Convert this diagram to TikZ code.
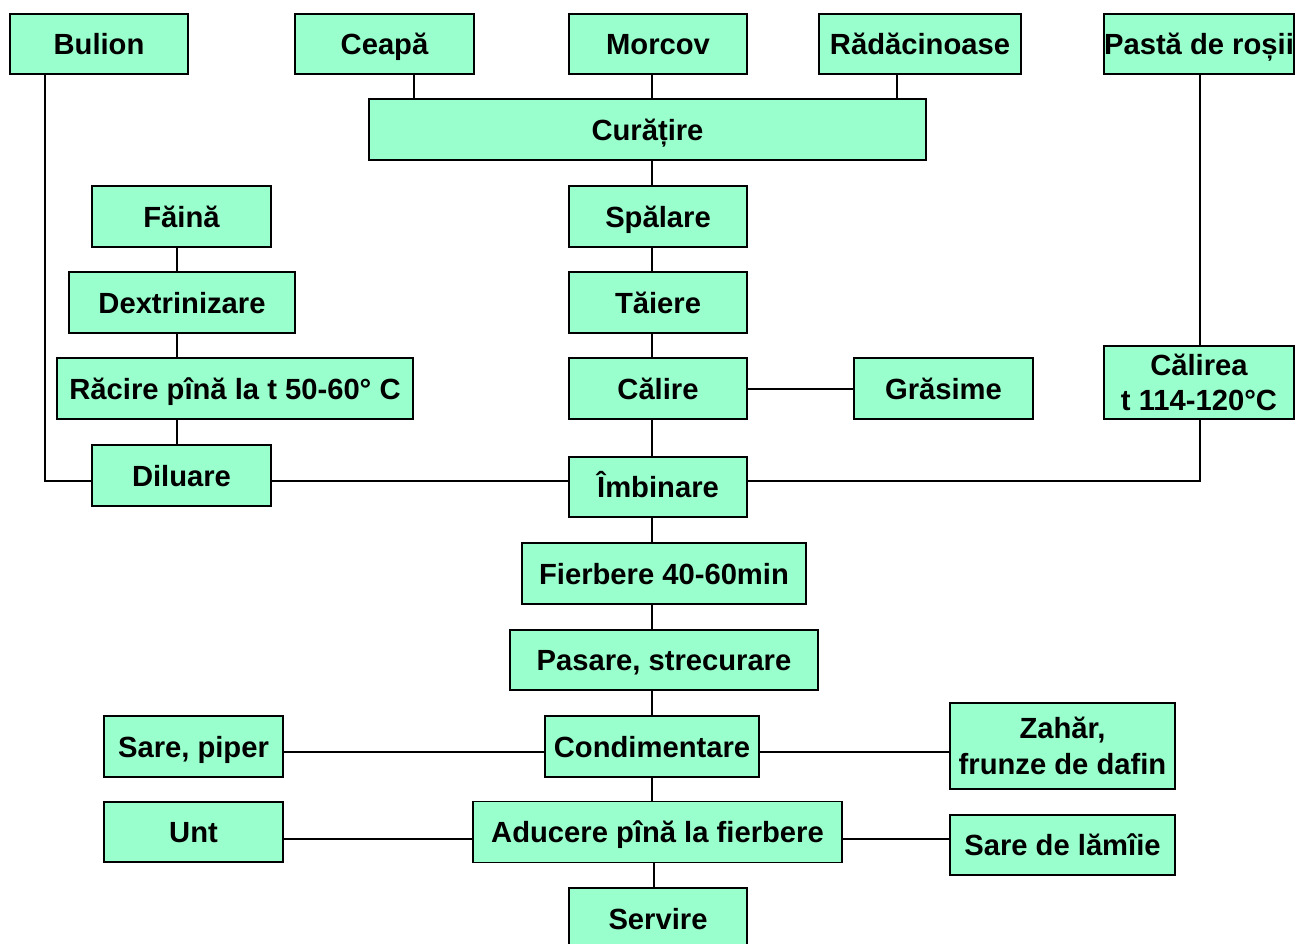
\documentclass[tikz,border=0pt]{standalone}
\usepackage{fontspec}
\setmainfont{Liberation Sans}
\begin{document}
\begin{tikzpicture}[x=1bp,y=-1bp,
  box/.style={draw=black, fill=mint, line width=1.6bp, inner sep=0pt,
    minimum height=61bp, align=center, text height=21bp, text depth=0pt,
    font=\fontsize{29.3}{35.5}\selectfont\bfseries},
  twoline/.style={text height=56.5bp},
  conn/.style={draw=black, line width=1.6bp}]
\definecolor{mint}{HTML}{99FFCC}
\useasboundingbox (0,0) rectangle (1298,944);
% nodes
\node[box, minimum width=178bp, minimum height=60bp] (bulion) at (99,44) {Bulion};
\node[box, minimum width=179bp, minimum height=60bp] (ceapa) at (384.5,44) {Ceapă};
\node[box, minimum width=178bp, minimum height=60bp] (morcov) at (658,44) {Morcov};
\node[box, minimum width=202bp, minimum height=60bp] (radacinoase) at (920,44) {Rădăcinoase};
\node[box, minimum width=190bp, minimum height=60bp] (pasta) at (1199,44) {Pastă de roșii};
\node[box, minimum width=557bp] (curatire) at (647.5,129.5) {Curățire};
\node[box, minimum width=179bp] (faina) at (181.5,216.5) {Făină};
\node[box, minimum width=178bp] (spalare) at (658,216.5) {Spălare};
\node[box, minimum width=226bp] (dextrin) at (182,302.5) {Dextrinizare};
\node[box, minimum width=178bp] (taiere) at (658,302.5) {Tăiere};
\node[box, minimum width=356bp] (racire) at (235,388.5) {Răcire pînă la t 50-60° C};
\node[box, minimum width=178bp] (calire) at (658,388.5) {Călire};
\node[box, minimum width=179bp] (grasime) at (943.5,388.5) {Grăsime};
\node[box, twoline, minimum width=190bp, minimum height=73bp] (calirea) at (1199,382.5) {Călirea\\t 114-120°C};
\node[box, minimum width=179bp] (diluare) at (181.5,475.5) {Diluare};
\node[box, minimum width=178bp, minimum height=60bp] (imbinare) at (658,487) {Îmbinare};
\node[box, minimum width=284bp] (fierbere) at (664,573.5) {Fierbere 40-60min};
\node[box, minimum width=308bp, minimum height=60bp] (pasare) at (664,660) {Pasare, strecurare};
\node[box, minimum width=179bp] (sarepiper) at (193.5,746.5) {Sare, piper};
\node[box, minimum width=214bp] (condiment) at (652,746.5) {Condimentare};
\node[box, twoline, minimum width=225bp, minimum height=86bp] (zahar) at (1062.5,746) {Zahăr,\\frunze de dafin};
\node[box, minimum width=179bp, minimum height=60bp] (unt) at (193.5,832) {Unt};
\node[box, minimum width=369bp, minimum height=61bp] (aducere) at (657.5,832) {Aducere pînă la fierbere};
\node[box, minimum width=225bp, minimum height=60bp] (sarelam) at (1062.5,845) {Sare de lămîie};
\node[box, minimum width=178bp, minimum height=62bp] (servire) at (658,919) {Servire};
% guide coordinates
\coordinate (tx) at (652,0);
\coordinate (sx) at (654,0);
\coordinate (cx) at (414,0);
\coordinate (rx) at (897,0);
\coordinate (fx) at (177,0);
\coordinate (bx) at (45,0);
\coordinate (px) at (1200,0);
\coordinate (jy) at (0,481);
\coordinate (gy) at (0,389);
\coordinate (cy) at (0,752);
\coordinate (ay) at (0,839);
% connectors
\begin{scope}[every path/.style={conn}]
\draw (ceapa.south -| cx) -- (curatire.north -| cx);
\draw (morcov.south -| tx) -- (curatire.north -| tx);
\draw (radacinoase.south -| rx) -- (curatire.north -| rx);
\draw (curatire.south -| tx) -- (spalare.north -| tx);
\draw (spalare.south -| tx) -- (taiere.north -| tx);
\draw (taiere.south -| tx) -- (calire.north -| tx);
\draw (calire.south -| tx) -- (imbinare.north -| tx);
\draw (calire.east |- gy) -- (grasime.west |- gy);
\draw (faina.south -| fx) -- (dextrin.north -| fx);
\draw (dextrin.south -| fx) -- (racire.north -| fx);
\draw (racire.south -| fx) -- (diluare.north -| fx);
\draw (bulion.south -| bx) -- (bx |- jy) -- (diluare.west |- jy);
\draw (diluare.east |- jy) -- (imbinare.west |- jy);
\draw (pasta.south -| px) -- (calirea.north -| px);
\draw (calirea.south -| px) -- (px |- jy) -- (imbinare.east |- jy);
\draw (imbinare.south -| tx) -- (fierbere.north -| tx);
\draw (fierbere.south -| tx) -- (pasare.north -| tx);
\draw (pasare.south -| tx) -- (condiment.north -| tx);
\draw (condiment.south -| tx) -- (aducere.north -| tx);
\draw (aducere.south -| sx) -- (servire.north -| sx);
\draw (sarepiper.east |- cy) -- (condiment.west |- cy);
\draw (condiment.east |- cy) -- (zahar.west |- cy);
\draw (unt.east |- ay) -- (aducere.west |- ay);
\draw (aducere.east |- ay) -- (sarelam.west |- ay);
\end{scope}
\end{tikzpicture}
\end{document}
